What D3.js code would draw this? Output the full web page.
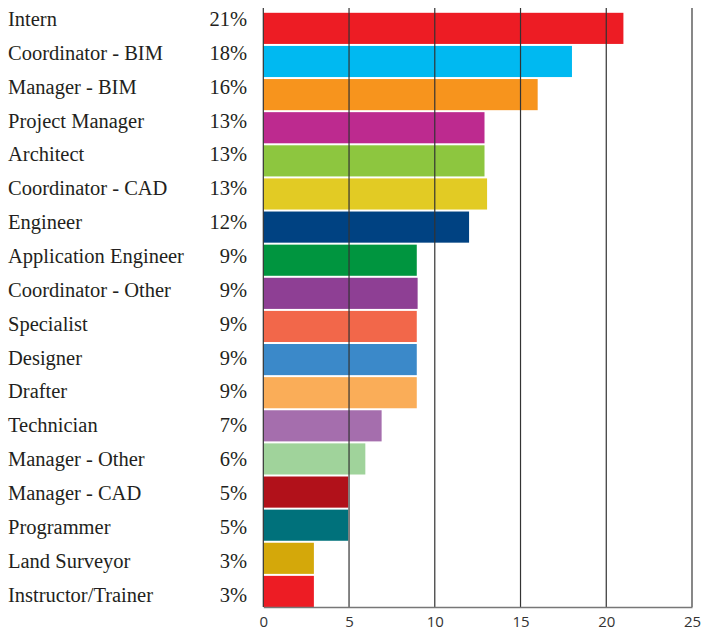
<!DOCTYPE html>
<html>
<head>
<meta charset="utf-8">
<script src="https://cdn.jsdelivr.net/npm/d3@7/dist/d3.min.js"></script>
<style>
  html, body { margin: 0; padding: 0; background: #fff; }
  svg { display: block; }
  .lbl { font-family: "Liberation Serif", "DejaVu Serif", "Times New Roman", serif; font-size: 20.5px; fill: #231f20; }
  .tick-lbl { font-family: "Open Sans", "Noto Sans", sans-serif; font-size: 15px; fill: #333; }
</style>
</head>
<body>
<svg id="chart" width="704" height="630"></svg>
<script>
// Job titles, share of respondents (%)
const categories = [
  "Intern", "Coordinator - BIM", "Manager - BIM", "Project Manager", "Architect",
  "Coordinator - CAD", "Engineer", "Application Engineer", "Coordinator - Other",
  "Specialist", "Designer", "Drafter", "Technician", "Manager - Other",
  "Manager - CAD", "Programmer", "Land Surveyor", "Instructor/Trainer"
];
const values = [
  21, 18, 16, 12.9, 12.9, 13.05, 12, 8.95, 9, 8.95, 8.95, 8.95,
  6.9, 5.95, 4.95, 4.95, 2.95, 2.95
];
const colors = [
  "#ED1C24", "#00B9F1", "#F7941D", "#BD2A8F", "#8DC63F", "#E2CB24",
  "#004282", "#00953F", "#8E3F94", "#F2674A", "#3B89C9", "#FAAD58",
  "#A56EAD", "#A0D39B", "#B1111A", "#00717B", "#D4A80A", "#ED1C24"
];
const xTicks = [0, 5, 10, 15, 20, 25];

const data = categories.map((c, i) => ({ name: c, value: values[i], color: colors[i] }));

const svg = d3.select("#chart");

const x = d3.scaleLinear().domain([0, 25]).range([263.3, 692]);
const yBar = d3.scaleBand().domain(categories).range([12.8, 607]).paddingInner(0.06).paddingOuter(0);
const yText = d3.scalePoint().domain(categories).range([26, 601.6]);
const pct = d3.format(".0f");

// Bars
svg.append("g").selectAll("rect")
  .data(data)
  .join("rect")
  .attr("x", x(0))
  .attr("y", d => yBar(d.name))
  .attr("width", d => x(d.value) - x(0))
  .attr("height", yBar.bandwidth())
  .attr("fill", d => d.color);

// Vertical grid lines drawn on top of the bars
svg.append("g").selectAll("line")
  .data(xTicks)
  .join("line")
  .attr("x1", d => x(d)).attr("x2", d => x(d))
  .attr("y1", 8).attr("y2", 607)
  .attr("stroke", d => d === 25 ? "#6a6a6a" : "#333")
  .attr("stroke-width", d => d === 25 ? 1.6 : 1.2);

// Bottom axis
const xAxis = d3.axisBottom(x).tickValues(xTicks).tickSize(0).tickPadding(9);
const ax = svg.append("g").attr("transform", "translate(0,607)").call(xAxis)
  .attr("font-family", null).attr("font-size", null);
ax.select(".domain").attr("stroke", "#777").attr("stroke-width", 1.4);
ax.selectAll("text").attr("class", "tick-lbl").attr("fill", null);

// Category names
svg.append("g").selectAll("text")
  .data(data)
  .join("text")
  .attr("class", "lbl")
  .attr("x", 8)
  .attr("y", d => yText(d.name))
  .text(d => d.name);

// Percentage labels
svg.append("g").selectAll("text")
  .data(data)
  .join("text")
  .attr("class", "lbl")
  .attr("x", 247)
  .attr("y", d => yText(d.name))
  .attr("text-anchor", "end")
  .text(d => pct(d.value) + "%");
</script>
</body>
</html>
